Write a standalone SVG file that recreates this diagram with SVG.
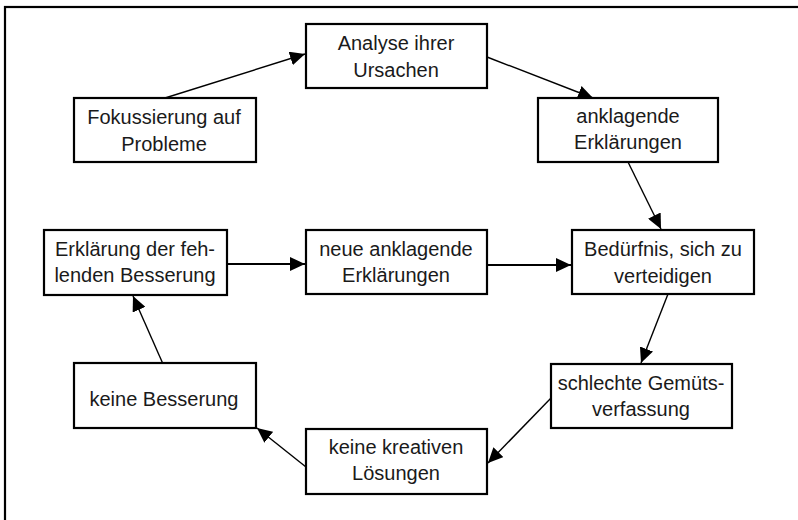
<svg xmlns="http://www.w3.org/2000/svg" width="798" height="520" viewBox="0 0 798 520">
<defs>
<style>
.box{fill:#fff;stroke:#000;stroke-width:2.2}
.t{font-family:"Liberation Sans",Arial,sans-serif;font-size:20px;fill:#1a1a1a;text-anchor:middle}
.c{stroke:#000;stroke-width:1.4;fill:none;marker-end:url(#ah)}
.h{stroke-width:2.2}
</style>
<marker id="ah" markerUnits="userSpaceOnUse" markerWidth="16" markerHeight="14" refX="15" refY="7" orient="auto">
<path d="M0,0 L15,7 L0,14 z" fill="#000"/>
</marker>
</defs>
<rect width="798" height="520" fill="#fff"/>
<rect x="5" y="7" width="820" height="540" fill="none" stroke="#000" stroke-width="2.2"/>
<g id="connectors">
<line class="c" x1="165" y1="98" x2="305" y2="54"/>
<line class="c" x1="487" y1="57" x2="593" y2="98"/>
<line class="c" x1="628" y1="162" x2="661" y2="229"/>
<line class="c" x1="668" y1="294" x2="641" y2="363"/>
<line class="c" x1="552" y1="397" x2="488" y2="463"/>
<line class="c" x1="306" y1="467" x2="257" y2="428"/>
<line class="c" x1="163" y1="364" x2="133" y2="296"/>
<line class="c h" x1="227" y1="264" x2="305" y2="264"/>
<line class="c h" x1="487" y1="265" x2="571" y2="265"/>
</g>
<g id="n1"><rect class="box" x="74" y="98" width="182" height="64"/><text class="t" x="164" y="124">Fokussierung auf</text><text class="t" x="164" y="151">Probleme</text></g>
<g id="n2"><rect class="box" x="306" y="24" width="181" height="64"/><text class="t" x="396" y="50">Analyse ihrer</text><text class="t" x="396" y="77">Ursachen</text></g>
<g id="n3"><rect class="box" x="538" y="98" width="180" height="64"/><text class="t" x="628" y="123">anklagende</text><text class="t" x="628" y="149">Erklärungen</text></g>
<g id="n4"><rect class="box" x="572" y="230" width="182" height="64"/><text class="t" x="663" y="256">Bedürfnis, sich zu</text><text class="t" x="663" y="283">verteidigen</text></g>
<g id="n5"><rect class="box" x="551" y="364" width="181" height="64"/><text class="t" x="641" y="390">schlechte Gemüts-</text><text class="t" x="641" y="416">verfassung</text></g>
<g id="n6"><rect class="box" x="306" y="429" width="181" height="65"/><text class="t" x="396" y="454">keine kreativen</text><text class="t" x="396" y="480">Lösungen</text></g>
<g id="n7"><rect class="box" x="74" y="363" width="182" height="65"/><text class="t" x="164" y="406">keine Besserung</text></g>
<g id="n8"><rect class="box" x="44" y="230" width="183" height="65"/><text class="t" x="135" y="256">Erklärung der feh-</text><text class="t" x="135" y="282">lenden Besserung</text></g>
<g id="n9"><rect class="box" x="306" y="230" width="181" height="64"/><text class="t" x="396" y="256">neue anklagende</text><text class="t" x="396" y="282">Erklärungen</text></g>
</svg>
